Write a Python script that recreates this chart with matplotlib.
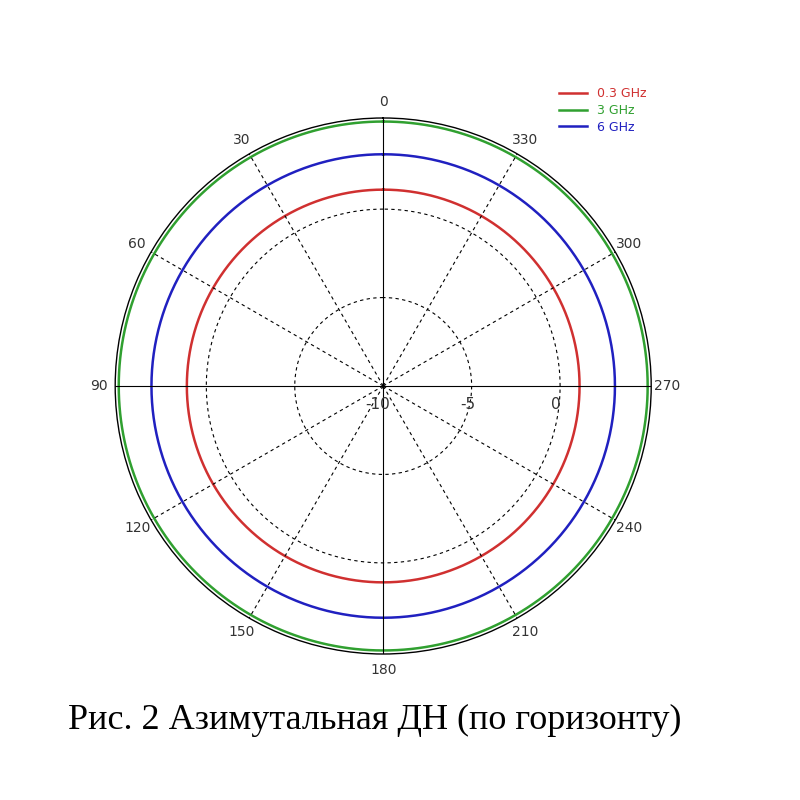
import numpy as np
import matplotlib
matplotlib.use("Agg")
import matplotlib.pyplot as plt

freq_labels = ["0.3 GHz", "3 GHz", "6 GHz"]
gain_db = [1.1, 4.95, 3.1]
colors = ["#d03030", "#30a030", "#2020c0"]
angle_ticks = [0, 30, 60, 90, 120, 150, 180, 210, 240, 270, 300, 330]
radial_ticks = [-10, -5, 0]
r_min, r_max = -10, 5.15

fig = plt.figure(figsize=(8, 8), dpi=100)
ax = fig.add_axes([0.144, 0.1825, 0.67, 0.67], projection="polar")
ax.set_theta_zero_location("N")
ax.set_theta_direction(1)
ax.set_rlim(r_min, r_max)

theta = np.linspace(0, 2 * np.pi, 721)
for lab, g, c in zip(freq_labels, gain_db, colors):
    ax.plot(theta, np.full_like(theta, g), color=c, lw=1.8, label=lab)

ax.set_xticks(np.deg2rad(angle_ticks))
ax.set_xticklabels([str(a) for a in angle_ticks], fontsize=10, color="#333333")
ax.tick_params(axis="x", pad=1)
ax.set_yticks([])
ax.grid(False)
for a in angle_ticks:
    ls = "-" if a % 90 == 0 else (0, (3, 3))
    ax.plot([np.deg2rad(a)] * 2, [r_min, r_max], color="black", lw=0.8, ls=ls)
for r in [-5, 0]:
    ax.plot(theta, np.full_like(theta, r), color="black", lw=0.8, ls=(0, (3, 3)))
for r in radial_ticks:
    ax.annotate(str(r), xy=(np.deg2rad(270), r), xytext=(-4 if r == -10 else -3, -8),
                textcoords="offset points", fontsize=11, color="#333333",
                ha="center", va="top")
ax.spines["polar"].set_linewidth(1.0)

fig.legend(loc="upper left", bbox_to_anchor=(0.685, 0.905), frameon=False,
           fontsize=9, handlelength=2.2, labelcolor=colors, labelspacing=0.3)

fig.text(0.085, 0.1, "Рис. 2 Азимутальная ДН (по горизонту)", fontsize=26,
         family="Liberation Serif", ha="left", va="center")

fig.savefig("out.png", dpi=100)
